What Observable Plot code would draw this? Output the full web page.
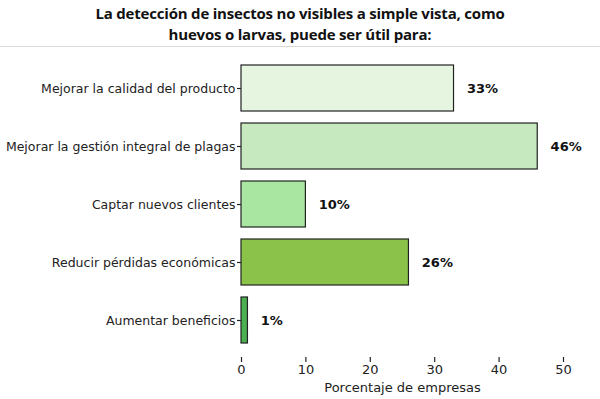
<!DOCTYPE html>
<html>
<head>
<meta charset="utf-8">
<script src="https://cdn.jsdelivr.net/npm/d3@7"></script>
<script src="https://cdn.jsdelivr.net/npm/@observablehq/plot@0.6"></script>
<style>
  html, body { margin: 0; padding: 0; background: #fff; }
  #title {
    width: 600px; height: 47px; box-sizing: border-box;
    border-bottom: 1px solid #d9d9d9;
    font-family: "Open Sans", "Liberation Sans", sans-serif; font-weight: 700;
    font-size: 15px; letter-spacing: -0.2px; line-height: 21px; text-align: center; color: #111;
    padding-top: 3px;
  }
  #chart svg { display: block; }
</style>
</head>
<body>
<div id="title">La detección de insectos no visibles a simple vista, como<br>huevos o larvas, puede ser útil para:</div>
<div id="chart"></div>
<script>
const categories = [
  "Mejorar la calidad del producto",
  "Mejorar la gestión integral de plagas",
  "Captar nuevos clientes",
  "Reducir pérdidas económicas",
  "Aumentar beneficios"
];
const values = [33, 46, 10, 26, 1];
const colors = ["#e5f5e0", "#c7e9c0", "#a8e6a1", "#8bc34a", "#4caf50"];
const xTicks = [0, 10, 20, 30, 40, 50];
const xLabel = "Porcentaje de empresas";

const data = categories.map((c, i) => ({cat: c, value: values[i], color: colors[i]}));

const chart = Plot.plot({
  width: 600,
  height: 352,
  marginLeft: 241,
  marginRight: 37,
  marginTop: 4,
  marginBottom: 42,
  style: {fontFamily: "DejaVu Sans", fontSize: "12.5px", color: "#222", background: "#fff"},
  x: {domain: [0, 50]},
  y: {domain: categories, paddingInner: 0.2, paddingOuter: 0.23},
  marks: [
    Plot.barX(data, {y: "cat", x: "value", fill: "color", stroke: "#222", strokeWidth: 1.2}),
    Plot.text(data, {
      y: "cat", x: d => d.value + 2, text: d => d.value + "%",
      textAnchor: "start", fontWeight: "bold", fontSize: 13, fill: "#111"
    }),
    Plot.axisY({
      tickSize: 4, tickPadding: 2, line: true, label: null,
      fontSize: 12.5, stroke: "#222", strokeWidth: 1.2
    }),
    Plot.axisX({
      ticks: xTicks, tickFormat: d => String(d), tickSize: 5, tickPadding: 2,
      line: true, fontSize: 13, stroke: "#222", strokeWidth: 1.2,
      label: xLabel, labelAnchor: "center", labelArrow: "none", labelOffset: 34
    })
  ]
});
document.getElementById("chart").appendChild(chart);
</script>
</body>
</html>
